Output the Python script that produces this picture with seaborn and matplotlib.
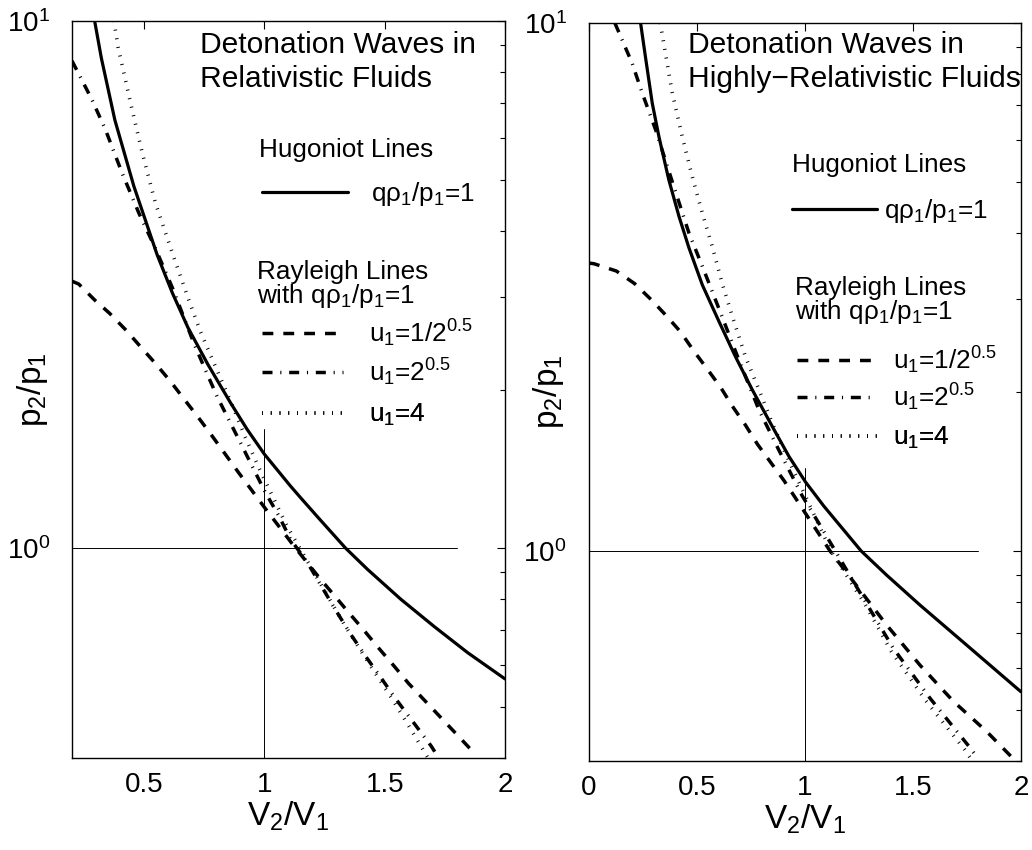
import matplotlib
matplotlib.use("Agg")
import matplotlib.pyplot as plt
from matplotlib.ticker import FixedLocator, FormatStrFormatter, LogLocator, NullFormatter
import seaborn as sns

# ---- left panel: relativistic fluids ----
HUG_L_X = [0.294, 0.322, 0.378, 0.457, 0.554, 0.617, 0.682, 0.765, 0.858, 0.928, 1.0,
           1.108, 1.15, 1.233, 1.3375, 1.428, 1.567, 1.706, 1.844, 2.0]
HUG_L_Y = [10.0, 8.5, 6.49, 4.86, 3.60, 3.05, 2.62, 2.23, 1.89, 1.68, 1.507,
           1.312, 1.247, 1.13, 1.0, 0.912, 0.80, 0.71, 0.634, 0.565]

RAY1_L_X = [0.2, 0.228, 0.293, 0.356, 0.425, 0.485, 0.547, 0.610, 0.665, 0.721, 0.775,
            0.893, 1.003, 1.122, 1.233, 1.292, 1.35, 1.412, 1.474, 1.537, 1.599,
            1.796, 1.88]
RAY1_L_Y = [3.21, 3.17, 2.96, 2.79, 2.59, 2.41, 2.24, 2.07, 1.92, 1.78, 1.65,
            1.39, 1.19, 1.01, 0.873, 0.812, 0.755, 0.70, 0.647, 0.599, 0.554,
            0.445, 0.405]

RAY2_L_X = [0.2, 0.283, 0.339, 0.408, 0.478, 0.547, 0.617, 0.706, 0.754, 0.803, 0.851,
            0.900, 0.949, 1.004, 1.060, 1.108, 1.178, 1.289, 1.358, 1.42, 1.483, 1.54,
            1.692, 1.725]
RAY2_L_Y = [8.4, 7.09, 6.22, 5.15, 4.32, 3.70, 3.12, 2.45, 2.18, 1.94, 1.755,
            1.585, 1.43, 1.275, 1.151, 1.04, 0.94, 0.772, 0.687, 0.624, 0.569, 0.522,
            0.422, 0.40]

RAY4_L_X = [0.374, 0.392, 0.443, 0.492, 0.547, 0.617, 0.686, 0.733, 0.789, 0.872, 0.921,
            0.983, 1.039, 1.094, 1.333, 1.444, 1.528, 1.60, 1.68]
RAY4_L_Y = [10.0, 8.9, 7.0, 5.62, 4.51, 3.63, 2.95, 2.58, 2.25, 1.84, 1.62,
            1.40, 1.24, 1.10, 0.715, 0.595, 0.52, 0.46, 0.40]

# ---- right panel: highly-relativistic fluids ----
HUG_R_X = [0.239, 0.262, 0.293, 0.324, 0.370, 0.417, 0.463, 0.525, 0.602, 0.679, 0.756,
           0.849, 0.926, 1.003, 1.088, 1.26, 1.378, 1.532, 1.764, 2.0]
HUG_R_Y = [10.0, 8.6, 7.05, 6.09, 5.04, 4.30, 3.75, 3.19, 2.72, 2.33, 2.02,
           1.72, 1.51, 1.35, 1.215, 1.0, 0.90, 0.79, 0.655, 0.541]

RAY1_R_X = [0.0, 0.023, 0.127, 0.211, 0.289, 0.358, 0.424, 0.486, 0.548, 0.610, 0.664,
            0.725, 0.779, 0.841, 0.903, 0.957, 1.116, 1.378, 1.532, 1.687, 1.841, 1.975]
RAY1_R_Y = [3.51, 3.50, 3.39, 3.21, 2.99, 2.79, 2.60, 2.39, 2.21, 2.04, 1.88,
            1.73, 1.595, 1.472, 1.359, 1.258, 1.0, 0.724, 0.608, 0.519, 0.455, 0.40]

RAY2_R_X = [0.12, 0.154, 0.2, 0.247, 0.309, 0.386, 0.463, 0.525, 0.610, 0.694, 0.787,
            0.880, 0.988, 1.069, 1.270, 1.409, 1.579, 1.762, 1.80]
RAY2_R_Y = [10.0, 9.28, 8.39, 7.36, 6.27, 5.0, 4.00, 3.46, 2.82, 2.30, 1.85,
            1.55, 1.27, 1.12, 0.814, 0.654, 0.526, 0.425, 0.405]

RAY4_R_X = [0.330, 0.385, 0.432, 0.478, 0.525, 0.571, 0.617, 0.664, 0.725, 0.787, 0.849,
            0.910, 0.972, 1.12, 1.28, 1.40, 1.56, 1.74, 1.775]
RAY4_R_Y = [10.0, 7.4, 6.09, 5.12, 4.36, 3.77, 3.21, 2.78, 2.33, 2.02, 1.745,
            1.53, 1.35, 1.0, 0.79, 0.645, 0.52, 0.42, 0.40]

# reference lines p2/p1 = 1 and V2/V1 = 1
HREF_L_X = [0.2, 1.8]
HREF_R_X = [0.0, 1.8]
HREF_Y = [1.0, 1.0]
VREF_X = [1.0, 1.0]
VREF_L_Y = [0.4, 1.68]
VREF_R_Y = [0.4, 1.434]

XTICKS_L = [0.5, 1, 1.5, 2]
XTICKS_R = [0, 0.5, 1, 1.5, 2]

LABEL_HUG = "q\u03c1$_1$/p$_1$=1"
LABEL_RAY1 = "u$_1$=1/2$^{0.5}$"
LABEL_RAY2 = "u$_1$=2$^{0.5}$"
LABEL_RAY4 = "u$_1$=4"
HEAD_HUG = "Hugoniot Lines"
HEAD_RAY = "Rayleigh Lines\nwith q\u03c1$_1$/p$_1$=1"

sns.set_style("white")
plt.rcParams["font.family"] = ["Liberation Sans", "DejaVu Sans"]
plt.rcParams["mathtext.fontset"] = "custom"
plt.rcParams["mathtext.rm"] = "Liberation Sans"
plt.rcParams["mathtext.it"] = "Liberation Sans:italic"
plt.rcParams["mathtext.default"] = "regular"
plt.rcParams["lines.scale_dashes"] = False
for key in ["text.color", "axes.labelcolor", "xtick.color", "ytick.color", "axes.edgecolor"]:
    plt.rcParams[key] = "black"

DASHED = (0, (7.8, 7.2))
DASHDOT = (0, (7.2, 5.6, 0.8, 5.6))
DOTTED = (0, (0.7, 5.6))
LEG_FS = 18.8


def curve(ax, xs, ys, ls, lw):
    sns.lineplot(x=xs, y=ys, ax=ax, color="black", linestyle=ls, linewidth=lw,
                 estimator=None, sort=False, errorbar=None, legend=False)
    return ax.lines[-1]


def key(ax, handle, label, anchor, hl, pad):
    leg = ax.legend(handles=[handle], labels=[label], loc="center left",
                    bbox_to_anchor=anchor, frameon=False, fontsize=LEG_FS,
                    borderpad=0, borderaxespad=0, handlelength=hl, handletextpad=pad)
    ax.add_artist(leg)


def panel(ax, series, labels, href_x, vref_y, xlim, xticks, title, title_pos, lay):
    handles = [curve(ax, xs, ys, ls, lw) for xs, ys, ls, lw in series]
    ax.plot(href_x, HREF_Y, color="black", lw=0.7)
    ax.plot(VREF_X, vref_y, color="black", lw=0.7)

    ax.set_yscale("log")
    ax.set_xlim(*xlim)
    ax.set_ylim(0.4, 10)
    ax.xaxis.set_major_locator(FixedLocator(xticks))
    ax.xaxis.set_major_formatter(FormatStrFormatter("%g"))
    ax.yaxis.set_major_locator(LogLocator(base=10))
    ax.yaxis.set_minor_locator(LogLocator(base=10, subs=range(2, 10)))
    ax.yaxis.set_minor_formatter(NullFormatter())
    ax.tick_params(which="both", direction="in", top=True, right=True, width=0.8)
    ax.tick_params(which="major", length=6, labelsize=20)
    ax.tick_params(axis="x", which="major", pad=10)
    ax.tick_params(axis="y", which="major", pad=16)
    ax.tick_params(which="minor", length=3.6)
    for sp in ax.spines.values():
        sp.set_linewidth(1.0)

    ax.set_xlabel("V$_2$/V$_1$", fontsize=24)
    ax.set_ylabel("p$_2$/p$_1$", fontsize=24)
    ax.xaxis.set_label_coords(0.5, -0.057)
    ax.yaxis.set_label_coords(-0.052, 0.5)

    ax.text(*title_pos, title, transform=ax.transAxes, fontsize=21.6,
            ha="left", va="top", linespacing=1.25)
    ax.text(*lay["hug_head"], HEAD_HUG, transform=ax.transAxes, fontsize=LEG_FS,
            ha="left", va="top")
    ax.text(*lay["ray_head"], HEAD_RAY, transform=ax.transAxes, fontsize=LEG_FS,
            ha="left", va="top", linespacing=0.9)

    key(ax, handles[0], labels[0], lay["hug_key"], lay["a_hl"], lay["a_pad"])
    for h, lab, y in zip(handles[1:], labels[1:], lay["ray_keys_y"]):
        key(ax, h, lab, (lay["ray_key_x"], y), lay["b_hl"], lay["b_pad"])


fig = plt.figure(figsize=(10.32, 8.5), dpi=100)
ax_l = fig.add_axes([0.0698, 0.1082, 0.4196, 0.8671])
ax_r = fig.add_axes([0.5707, 0.1047, 0.4186, 0.8682])

labels = [LABEL_HUG, LABEL_RAY1, LABEL_RAY2, LABEL_RAY4]

panel(ax_l,
      [(HUG_L_X, HUG_L_Y, "-", 2.3),
       (RAY1_L_X, RAY1_L_Y, DASHED, 2.5),
       (RAY2_L_X, RAY2_L_Y, DASHDOT, 2.5),
       (RAY4_L_X, RAY4_L_Y, DOTTED, 2.6)],
      labels, HREF_L_X, VREF_L_Y, (0.2, 2), XTICKS_L,
      "Detonation Waves in\nRelativistic Fluids", (0.296, 0.9864),
      dict(hug_head=(0.432, 0.841), ray_head=(0.427, 0.676),
           hug_key=(0.4388, 0.765), a_hl=3.3, a_pad=0.88,
           ray_key_x=0.4388, ray_keys_y=[0.5767, 0.5237, 0.4654], b_hl=3.1, b_pad=1.0))

panel(ax_r,
      [(HUG_R_X, HUG_R_Y, "-", 2.3),
       (RAY1_R_X, RAY1_R_Y, DASHED, 2.5),
       (RAY2_R_X, RAY2_R_Y, DASHDOT, 2.5),
       (RAY4_R_X, RAY4_R_Y, DOTTED, 2.6)],
      labels, HREF_R_X, VREF_R_Y, (0, 2), XTICKS_R,
      "Detonation Waves in\nHighly\u2212Relativistic Fluids", (0.229, 0.989),
      dict(hug_head=(0.470, 0.824), ray_head=(0.477, 0.657),
           hug_key=(0.470, 0.745), a_hl=3.26, a_pad=0.27,
           ray_key_x=0.4815, ray_keys_y=[0.5434, 0.4932, 0.4377], b_hl=3.07, b_pad=0.61))

fig.savefig("out.png", dpi=100)
